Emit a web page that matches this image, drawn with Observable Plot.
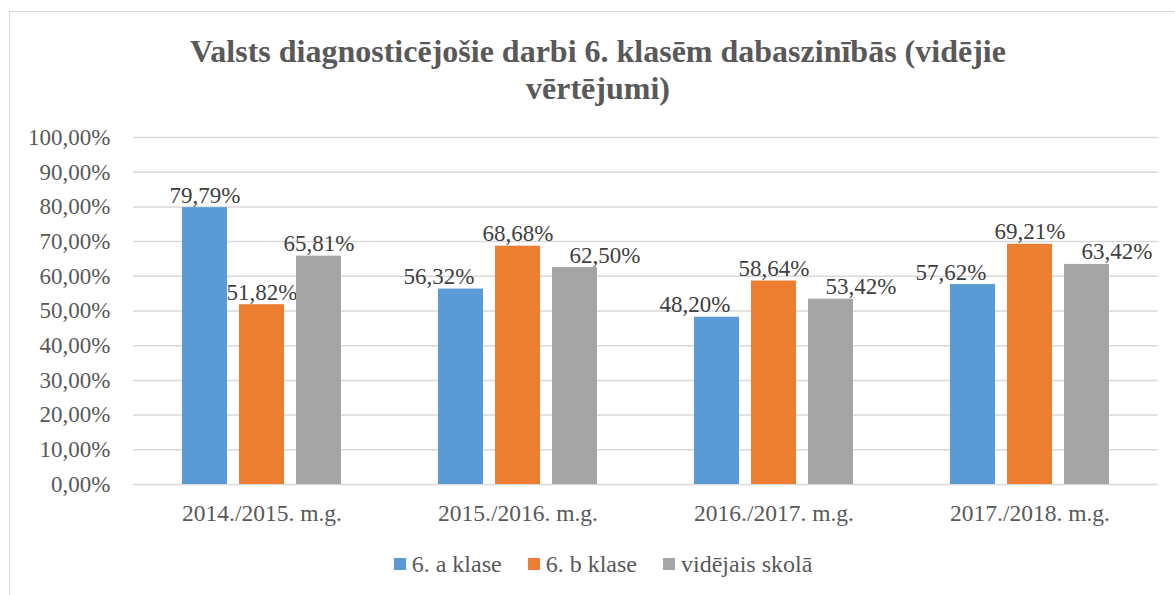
<!DOCTYPE html>
<html>
<head>
<meta charset="utf-8">
<script src="https://cdn.jsdelivr.net/npm/d3@7"></script>
<script src="https://cdn.jsdelivr.net/npm/@observablehq/plot@0.6"></script>
<style>
  html, body { margin: 0; padding: 0; overflow: hidden; background: #fff; }
  #wrap { position: relative; width: 1175px; height: 595px; font-family: "Liberation Serif", "Times New Roman", serif; color: #595959; }
  #border { position: absolute; left: 9px; top: 11px; width: 1250px; height: 700px; border: 1.5px solid #d9d9d9; box-sizing: border-box; }
  #title { position: absolute; left: 0; top: 33px; width: 1196px; text-align: center; font-weight: bold; font-size: 32px; line-height: 37px; }
  #chart { position: absolute; left: 0; top: 120px; }
  #legend { position: absolute; left: 0; top: 549px; width: 1206px; height: 30px; display: flex; justify-content: center; align-items: center; font-size: 24px; font-family: "Liberation Serif", serif; }
  .item { display: flex; align-items: center; margin: 0 13px; }
  .sw { width: 12px; height: 12px; margin-right: 6px; }
</style>
</head>
<body>
<div id="wrap">
  <div id="border"></div>
  <div id="title">Valsts diagnosticējošie darbi 6. klasēm dabaszinībās (vidējie<br>vērtējumi)</div>
  <div id="chart"></div>
  <div id="legend"></div>
</div>
<script>
const categories = ["2014./2015. m.g.", "2015./2016. m.g.", "2016./2017. m.g.", "2017./2018. m.g."];
const seriesNames = ["6. a klase", "6. b klase", "vidējais skolā"];
const seriesColors = ["#5B9BD5", "#ED7D31", "#A5A5A5"];
const klase6a = [79.79, 56.32, 48.20, 57.62];
const klase6b = [51.82, 68.68, 58.64, 69.21];
const videjais = [65.81, 62.50, 53.42, 63.42];
const yTicks = [0, 10, 20, 30, 40, 50, 60, 70, 80, 90, 100];

const seriesValues = [klase6a, klase6b, videjais];
const rows = [];
categories.forEach((c, i) => {
  const vals = seriesValues.map(s => s[i]);
  const crowded = d3.max(vals) - d3.min(vals) < 20;
  seriesValues.forEach((s, j) => rows.push({category: c, series: seriesNames[j], si: j, value: s[i], crowded}));
});

const fmt = v => v.toFixed(2).replace(".", ",") + "%";
const font = "Liberation Serif";

// bar positions inside band (band ~159px): bar 45px, gap 12px
const insets = [[0, 114], [57, 57], [114, 0]];
const labelDx = [-57, 0, 57];
const crowdShift = [-22, 0, 30];

const marks = [
  Plot.ruleY(yTicks, {stroke: "#d9d9d9", strokeWidth: 1.5})
];
seriesNames.forEach((name, j) => {
  const data = rows.filter(r => r.si === j);
  marks.push(Plot.barY(data, {x: "category", y: "value", fill: seriesColors[j], insetLeft: insets[j][0], insetRight: insets[j][1]}));
  marks.push(Plot.text(data.filter(r => !r.crowded), {x: "category", y: "value", text: d => fmt(d.value), dx: labelDx[j], dy: -5, lineAnchor: "bottom", fill: "#404040", fontSize: 23, fontFamily: font}));
  marks.push(Plot.text(data.filter(r => r.crowded), {x: "category", y: "value", text: d => fmt(d.value), dx: labelDx[j] + crowdShift[j], dy: -5, lineAnchor: "bottom", fill: "#404040", fontSize: 23, fontFamily: font}));
});
marks.push(Plot.axisY({ticks: yTicks, tickFormat: fmt, tickSize: 0, tickPadding: 23, fontSize: 23, fontFamily: font, fill: "#595959", label: null}));
marks.push(Plot.axisX({tickSize: 0, tickPadding: 20, fontSize: 23.5, fontFamily: font, fill: "#595959", label: null}));

const chart = Plot.plot({
  width: 1175,
  height: 420,
  marginTop: 17,
  marginBottom: 56,
  marginLeft: 133,
  marginRight: 17,
  style: {fontFamily: font, background: "transparent", overflow: "visible"},
  x: {domain: categories, paddingInner: 0.38, paddingOuter: 0.19, label: null},
  y: {domain: [0, 100], label: null},
  marks
});
document.getElementById("chart").appendChild(chart);

const legend = document.getElementById("legend");
seriesNames.forEach((n, j) => {
  const it = document.createElement("div");
  it.className = "item";
  const sw = document.createElement("div");
  sw.className = "sw";
  sw.style.background = seriesColors[j];
  const t = document.createElement("span");
  t.textContent = n;
  it.appendChild(sw); it.appendChild(t);
  legend.appendChild(it);
});
</script>
</body>
</html>
